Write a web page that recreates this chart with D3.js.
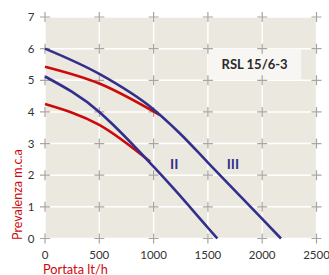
<!DOCTYPE html>
<html>
<head>
<meta charset="utf-8">
<script src="https://cdn.jsdelivr.net/npm/d3@7"></script>
<style>
body { margin: 0; background: #fff; }
text { font-family: Lato, "Open Sans", sans-serif; }
</style>
</head>
<body>
<svg width="329" height="275"></svg>
<script>
// values (flow lt/h, head m)
var xTicks = [0, 500, 1000, 1500, 2000, 2500];
var yTicks = [0, 1, 2, 3, 4, 5, 6, 7];

var blueIII = [[0, 6.0], [500, 5.2], [1000, 4.08], [1243, 3.32], [1500, 2.4], [2000, 0.62], [2173, 0]];
var blueII = [[0, 5.12], [500, 4.0], [598, 3.69], [1000, 2.27], [1200, 1.52], [1500, 0.34], [1587, 0]];
var redHigh = [[0, 5.43], [500, 4.9], [1059, 3.9]];
var redLow = [[0, 4.25], [500, 3.59], [967, 2.43]];

var seriesLabels = [{t: "II", x: 1190, y: 2.35}, {t: "III", x: 1730, y: 2.35}];
var modelName = "RSL 15/6-3";

var svg = d3.select("svg");
var x = d3.scaleLinear().domain([0, 2500]).range([45, 316.5]);
var y = d3.scaleLinear().domain([0, 7]).range([238.5, 17]);

// plot background
svg.append("rect")
  .attr("x", x(0)).attr("y", y(7))
  .attr("width", x(2500) - x(0)).attr("height", y(0) - y(7))
  .attr("fill", "#ebe8e0");

// white grid
svg.selectAll(".gx").data(xTicks).enter().append("line")
  .attr("x1", function(d) { return x(d); }).attr("x2", function(d) { return x(d); })
  .attr("y1", y(0)).attr("y2", y(7))
  .attr("stroke", "#fff").attr("stroke-width", 1.5);
svg.selectAll(".gy").data(yTicks).enter().append("line")
  .attr("y1", function(d) { return y(d); }).attr("y2", function(d) { return y(d); })
  .attr("x1", x(0)).attr("x2", x(2500))
  .attr("stroke", "#fff").attr("stroke-width", 1.5);

// model label box
svg.append("rect")
  .attr("x", x(1500)).attr("y", y(6))
  .attr("width", x(2360) - x(1500)).attr("height", y(5) - y(6))
  .attr("fill", "#f8f6f2");
svg.append("text")
  .attr("x", (x(1500) + x(2360)) / 2).attr("y", y(5.5) + 5)
  .attr("text-anchor", "middle")
  .attr("font-size", 13).attr("font-weight", "bold").attr("fill", "#2a2a2a")
  .text(modelName);

// plus markers at grid crossings
var crosses = [];
xTicks.forEach(function(a) { yTicks.forEach(function(b) { crosses.push([a, b]); }); });
var cg = svg.append("g").attr("stroke", "#a8a6a2").attr("stroke-width", 1.2);
cg.selectAll("path").data(crosses).enter().append("path")
  .attr("d", function(d) {
    var cx = x(d[0]), cy = y(d[1]);
    return "M" + (cx - 5) + "," + cy + "H" + (cx + 5) + "M" + cx + "," + (cy - 5) + "V" + (cy + 5);
  });

// curves
var line = d3.line()
  .x(function(d) { return x(d[0]); })
  .y(function(d) { return y(d[1]); })
  .curve(d3.curveMonotoneX);

[[redHigh, "#cc0a0a"], [redLow, "#cc0a0a"], [blueIII, "#33308c"], [blueII, "#33308c"]].forEach(function(s) {
  svg.append("path").datum(s[0])
    .attr("d", line)
    .attr("fill", "none")
    .attr("stroke", s[1])
    .attr("stroke-width", 2.6);
});

svg.selectAll(".sl").data(seriesLabels).enter().append("text")
  .attr("x", function(d) { return x(d.x); })
  .attr("y", function(d) { return y(d.y) + 5; })
  .attr("text-anchor", "middle")
  .attr("font-size", 14).attr("font-weight", "bold").attr("fill", "#33308c")
  .text(function(d) { return d.t; });

// axis tick labels
svg.selectAll(".yl").data(yTicks).enter().append("text")
  .attr("x", 34.5).attr("y", function(d) { return y(d) + 4; })
  .attr("text-anchor", "end").attr("font-size", 11.5).attr("fill", "#333")
  .text(function(d) { return d; });
svg.selectAll(".xl").data(xTicks).enter().append("text")
  .attr("x", function(d) { return x(d); }).attr("y", 258.5)
  .attr("text-anchor", "middle").attr("font-size", 11.5).attr("fill", "#333")
  .text(function(d) { return d; });

// axis titles
svg.append("text")
  .attr("x", 43).attr("y", 273.5)
  .attr("font-size", 12.8).attr("fill", "#cc0a0a")
  .text("Portata lt/h");
svg.append("text")
  .attr("transform", "translate(21.5,240) rotate(-90)")
  .attr("font-size", 12.5).attr("fill", "#cc0a0a")
  .text("Prevalenza m.c.a");
</script>
</body>
</html>
